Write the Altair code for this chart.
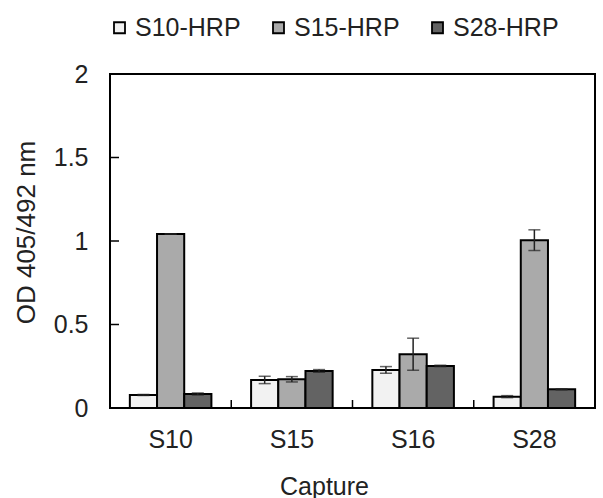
import altair as alt
import pandas as pd

captures = ["S10", "S15", "S16", "S28"]
series = ["S10-HRP", "S15-HRP", "S28-HRP"]
colors = ["#f2f2f2", "#aaaaaa", "#636363"]

vals = {
    "S10-HRP": [0.078, 0.168, 0.228, 0.068],
    "S15-HRP": [1.042, 0.172, 0.322, 1.005],
    "S28-HRP": [0.084, 0.222, 0.252, 0.112],
}
errs = {
    "S10-HRP": [0.003, 0.022, 0.020, 0.006],
    "S15-HRP": [0.0, 0.016, 0.096, 0.062],
    "S28-HRP": [0.006, 0.008, 0.004, 0.003],
}
y_ticks = [0.5, 1.0, 1.5]

rows = []
for s in series:
    for i, c in enumerate(captures):
        v = vals[s][i]
        e = errs[s][i]
        rows.append({"Capture": c, "series": s, "v": v, "lo": v - e, "hi": v + e})
df = pd.DataFrame(rows)

FONT = "Liberation Sans"
FS = 25
W, H = 485, 334

xenc = alt.X("Capture:N", sort=captures,
             scale=alt.Scale(domain=captures, paddingInner=0, paddingOuter=0),
             axis=alt.Axis(title="Capture", labelAngle=0, labelPadding=19,
                           titlePadding=22, titleX=214, titleAnchor="middle"))
xoff = alt.XOffset("series:N", sort=series,
                   scale=alt.Scale(domain=series, paddingInner=0, paddingOuter=0.73))
yscale = alt.Scale(domain=[0, 2], nice=False)
yenc = alt.Y("v:Q", scale=yscale,
             axis=alt.Axis(title="OD 405/492 nm", values=[0, 0.5, 1, 1.5, 2],
                           format=".1~f", titleFontSize=26,
                           labelPadding=22, titleX=-84, titleY=158,
                           titleAngle=-90, titleBaseline="middle", titleAlign="center"))

bars = alt.Chart(df).mark_bar(stroke="black", strokeWidth=2).encode(
    x=xenc, xOffset=xoff, y=yenc,
    color=alt.Color("series:N", sort=series,
                    scale=alt.Scale(domain=series, range=colors),
                    legend=alt.Legend(title=None, orient="none", direction="horizontal",
                                      legendX=-3, legendY=-59,
                                      symbolType="square", symbolSize=121,
                                      symbolStrokeColor="black", symbolStrokeWidth=1.8,
                                      symbolOpacity=1,
                                      labelFont=FONT, labelFontSize=FS, labelColor="#222",
                                      labelOffset=3, columnPadding=25)),
)

err_rule = alt.Chart(df).mark_rule(color="#222", strokeWidth=1.5).encode(
    x=alt.X("Capture:N", sort=captures), xOffset=alt.XOffset("series:N", sort=series),
    y=alt.Y("lo:Q", scale=yscale), y2="hi:Q",
)
err_cap_hi = alt.Chart(df).mark_tick(color="#222", size=12, thickness=1.5,
                                     orient="horizontal").encode(
    x=alt.X("Capture:N", sort=captures), xOffset=alt.XOffset("series:N", sort=series),
    y=alt.Y("hi:Q", scale=yscale),
)
err_cap_lo = alt.Chart(df).mark_tick(color="#222", size=12, thickness=1.5,
                                     orient="horizontal").encode(
    x=alt.X("Capture:N", sort=captures), xOffset=alt.XOffset("series:N", sort=series),
    y=alt.Y("lo:Q", scale=yscale),
)

ytick_df = pd.DataFrame({"t": y_ticks})
yticks = alt.Chart(ytick_df).mark_rule(color="black", strokeWidth=1.5).encode(
    x=alt.value(0), x2=alt.value(9), y=alt.Y("t:Q", scale=yscale),
)
xtick_df = pd.DataFrame({"Capture": captures[:3]})
xticks = alt.Chart(xtick_df).mark_rule(color="black", strokeWidth=1.5).encode(
    x=alt.X("Capture:N", sort=captures, bandPosition=1),
    y=alt.value(H - 8), y2=alt.value(H),
)

chart = alt.layer(bars, err_rule, err_cap_hi, err_cap_lo, yticks, xticks).properties(
    width=W, height=H,
    background="white",
    autosize=alt.AutoSizeParams(type="none"),
    padding={"left": 110, "top": 74, "right": 8, "bottom": 90},
).configure_view(
    stroke="black", strokeWidth=2
).configure_axis(
    domain=False, ticks=False, grid=False,
    labelFont=FONT, labelFontSize=FS, labelColor="#222",
    titleFont=FONT, titleFontSize=FS, titleColor="#222", titleFontWeight="normal",
)

chart.save("out.html", embed_options={"renderer": "svg", "actions": False})
